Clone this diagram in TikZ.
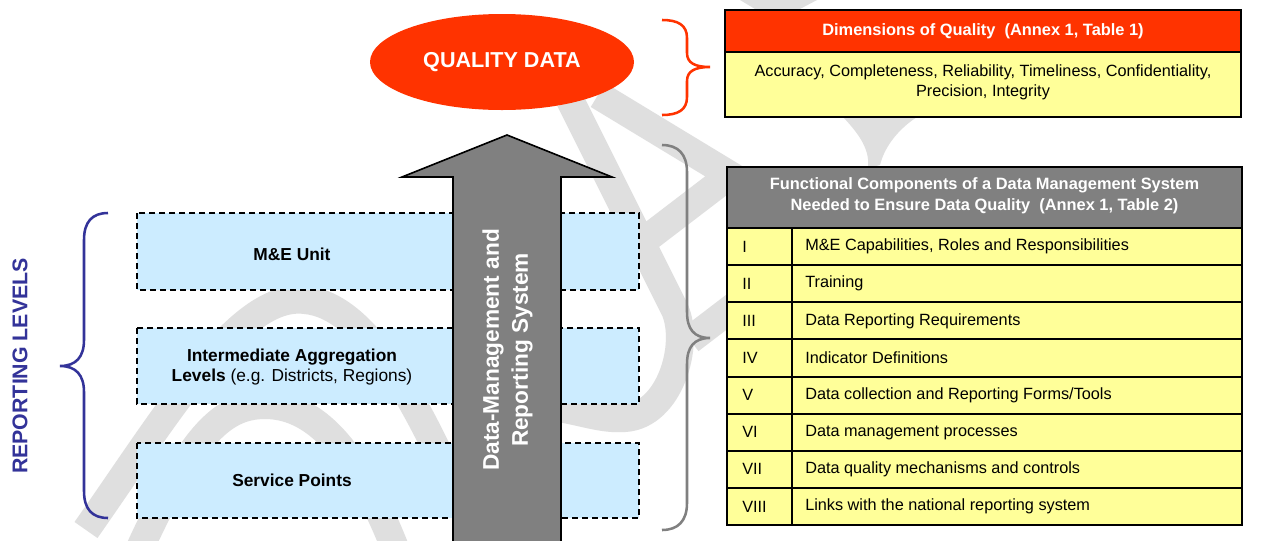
\documentclass[tikz,border=0pt]{standalone}
\usepackage{fontspec}
\setmainfont{Liberation Sans}
\usetikzlibrary{shapes.geometric}
\definecolor{qred}{HTML}{FF3300}
\definecolor{qyellow}{HTML}{FFFF99}
\definecolor{qblue}{HTML}{CCECFF}
\definecolor{qgray}{HTML}{808080}
\definecolor{qnavy}{HTML}{333399}
\definecolor{wmgray}{HTML}{DFDFDF}
\begin{document}
\begin{tikzpicture}[x=0.75pt,y=-0.75pt,
  wm/.style={draw=wmgray, line width=21pt},
  wmfill/.style={fill=wmgray, draw=none},
  levelbox/.style={draw=black, fill=qblue, dash pattern=on 4.5pt off 3pt, line width=1.5pt},
  cell/.style={draw=black, line width=1.5pt},
  boxtxt/.style={font=\fontsize{13}{15}\selectfont\bfseries, align=center},
  tabtxt/.style={font=\fontsize{12.2}{15}\selectfont, align=center},
  tabhead/.style={font=\fontsize{12.3}{15.75}\selectfont\bfseries, align=center, text=white},
  bracestroke/.style={line width=1.9pt}
]
\useasboundingbox (0,0) rectangle (1278,540);
\clip (0,0) rectangle (1278,540);
\fill[white] (0,0) rectangle (1278,540);

% watermark
\draw[wm] (86,530) .. controls (170,410) and (240,292) .. (305,300) .. controls (365,305) and (420,400) .. (480,548);
\draw[wm] (140,548) .. controls (190,440) and (220,405) .. (265,405) .. controls (320,405) and (360,460) .. (395,548);
\draw[wm] (570,100) -- (675,310) .. controls (690,345) and (670,415) .. (625,418) .. controls (600,420) and (580,410) .. (540,405);
\draw[wm] (598,95) -- (730,175) -- (645,240);
\draw[wm] (690,340) -- (745,298);
\fill[wmfill] (843,117) .. controls (860,135) and (870,150) .. (868,168) -- (880,165) .. controls (885,145) and (900,128) .. (917,117) -- cycle;
\fill[wmfill] (740,0) -- (817,0) -- (800,9) -- (755,9) -- cycle;

% reporting level boxes
\draw[levelbox] (137,213) rectangle (639,290);
\draw[levelbox] (137,328) rectangle (639,404);
\draw[levelbox] (137,443) rectangle (639,518);
\node[boxtxt] (me) at (292,254) {M\&E Unit};
\node[boxtxt] (ia) at (292,367) {Intermediate Aggregation\\Levels {\mdseries (e.g. Districts, Regions)}};
\node[boxtxt] (sp) at (292,480) {Service Points};

% big arrow
\draw[fill=qgray, line width=1.2pt] (453,548) -- (453,177) -- (402,177) -- (507,135) -- (612,177) -- (561,177) -- (561,548);
\node[rotate=90, text=white, align=center, font=\fontsize{17}{21.75}\selectfont\bfseries] (dm) at (507.5,350) {Data-Management and\\Reporting System};

% reporting levels label and brace
\node[rotate=90, text=qnavy, font=\fontsize{16}{18}\selectfont\bfseries] (rl) at (20,366) {REPORTING LEVELS};
\draw[qnavy, bracestroke] (108,213) .. controls (92,213) and (84,222) .. (84,240) -- (84,340) .. controls (84,357) and (76,366) .. (60,366) .. controls (76,366) and (84,375) .. (84,392) -- (84,491) .. controls (84,509) and (92,518) .. (108,518);

% gray brace
\draw[qgray, bracestroke] (662,145) .. controls (678,145) and (687,154) .. (687,172) -- (687,312) .. controls (687,329) and (694,338) .. (710,338) .. controls (694,338) and (687,347) .. (687,364) -- (687,503) .. controls (687,521) and (678,530) .. (662,530);

% red brace
\draw[qred, bracestroke] (662,20) .. controls (678,20) and (687,25) .. (687,38) -- (687,53) .. controls (687,63) and (695,67) .. (710,67) .. controls (695,67) and (687,71) .. (687,81) -- (687,97) .. controls (687,110) and (678,115) .. (662,115);

% quality data ellipse
\node[ellipse, fill=qred, inner sep=0pt, minimum width=198pt, minimum height=72pt, text=white, font=\fontsize{16.2}{18}\selectfont\bfseries] (qd) at (502,62) {QUALITY DATA};

% table 1
\draw[cell, fill=qred] (725,10) rectangle (1241,52);
\draw[cell, fill=qyellow] (725,52) rectangle (1241,117);
\node[tabhead] (t1h) at (983,31) {Dimensions of Quality\ \ (Annex 1, Table 1)};
\node[tabtxt] (t1b) at (983,82.5) {Accuracy, Completeness, Reliability, Timeliness, Confidentiality,\\Precision, Integrity};

% table 2
\draw[cell, fill=qgray] (727,167) rectangle (1242,228);
\node[tabhead] (t2h) at (984.5,196) {Functional Components of a Data Management System\\Needed to Ensure Data Quality\ \ (Annex 1, Table 2)};
\foreach \i/\r/\t in {1/I/{M\&E Capabilities, Roles and Responsibilities},
                      2/II/{Training},
                      3/III/{Data Reporting Requirements},
                      4/IV/{Indicator Definitions},
                      5/V/{Data collection and Reporting Forms/Tools},
                      6/VI/{Data management processes},
                      7/VII/{Data quality mechanisms and controls},
                      8/VIII/{Links with the national reporting system}}{
  \draw[cell, fill=qyellow] (727,{228+(\i-1)*37.125}) rectangle (1242,{228+\i*37.125});
  \node[tabtxt, anchor=west, inner sep=0pt] (r\i) at (742,{228+(\i-0.5)*37.125}) {\r};
  \node[tabtxt, anchor=west, inner sep=0pt] (n\i) at (805,{228+(\i-0.5)*37.125}) {\t};
}
\draw[cell] (792,228) -- (792,525);
\end{tikzpicture}
\end{document}
